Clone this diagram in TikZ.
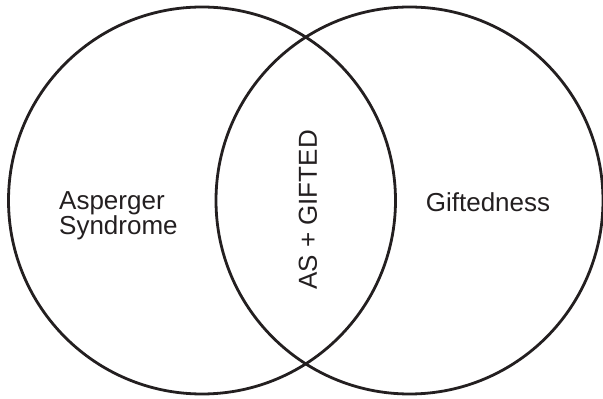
\documentclass[tikz,border=0pt]{standalone}
\usepackage{fontspec}
\setmainfont{Liberation Sans}
\definecolor{ink}{RGB}{35,31,32}
\tikzset{setlabel/.style={text=ink,font=\fontsize{26}{25}\selectfont}}

\begin{document}
\begin{tikzpicture}[x=1pt,y=1pt]
\useasboundingbox (0,0) rectangle (603,399);
\draw[ink,line width=2.8pt] (202,198.5) circle (193.5pt);
\draw[ink,line width=2.8pt] (409.5,198.5) circle (193.5pt);
\node[setlabel,anchor=west,align=left,inner sep=0pt] (as) at (59,183) {Asperger\\Syndrome};
\node[setlabel,anchor=base,inner sep=0pt] (gift) at (488,187) {Giftedness};
\node[setlabel,rotate=90,inner sep=0pt] (both) at (308,189) {AS + GIFTED};
\end{tikzpicture}
\end{document}
